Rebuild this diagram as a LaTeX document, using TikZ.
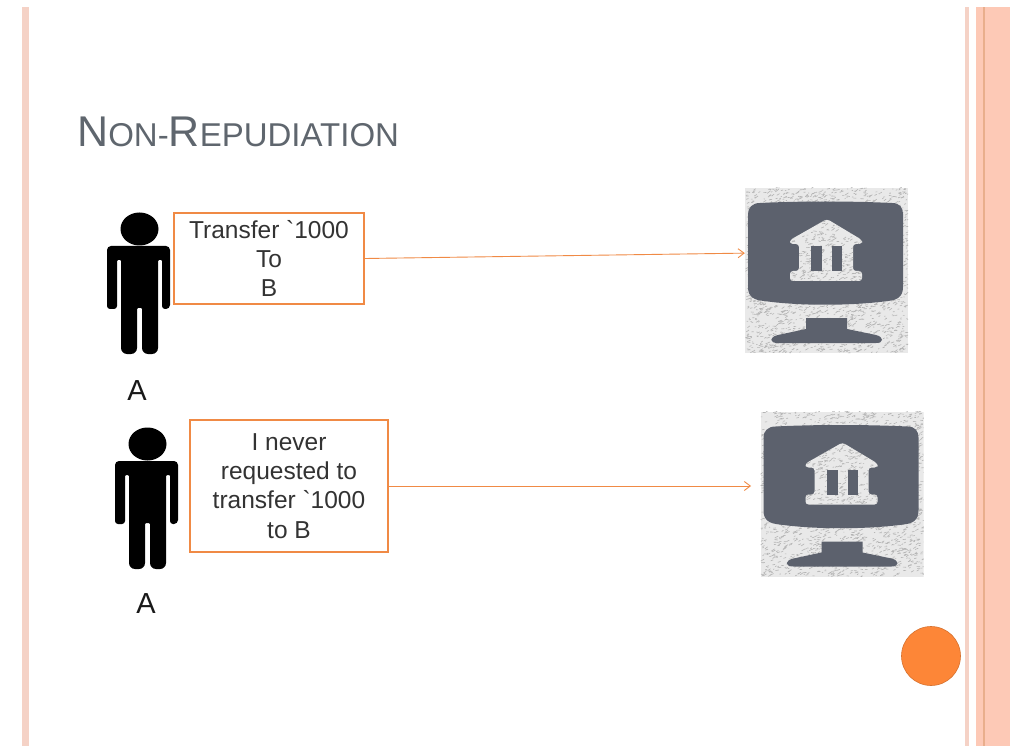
\documentclass[tikz,border=0pt]{standalone}
\usepackage{fontspec}
\usetikzlibrary{arrows.meta}
\newfontfamily\lib{Liberation Sans}
\definecolor{barlight}{HTML}{F5D2C6}
\definecolor{barpink}{HTML}{FDC9B6}
\definecolor{bardark}{HTML}{E9AE8C}
\definecolor{accent}{HTML}{F08A45}
\definecolor{dot}{HTML}{FD8637}
\definecolor{slate}{HTML}{5C616D}
\definecolor{titlegray}{HTML}{5F666E}
\definecolor{speckbg}{HTML}{E9E9E9}
\definecolor{speckfg}{HTML}{B4B4B4}
\newcommand{\specklefill}[5]{%
  \begin{scope}
  \clip (#1,#2) rectangle ++(#3,#4);
  \fill[speckbg] (#1,#2) rectangle ++(#3,#4);
  \foreach \i in {1,...,#5}{%
    \pgfmathsetmacro{\sx}{#1+rnd*#3}%
    \pgfmathsetmacro{\sy}{#2+rnd*#4}%
    \pgfmathsetmacro{\sa}{1+rnd*2.5}%
    \pgfmathsetmacro{\sb}{(rnd-0.8)*\sa}%
    \draw[speckfg,line width=0.6pt] (\sx,\sy) -- ++(\sa,\sb);
  }%
  \end{scope}
}
\tikzset{
  x=1pt,y=-1pt,
  msgbox/.style={draw=accent,line width=2pt,fill=white,inner sep=0pt,align=center,
    font=\lib\fontsize{24.5}{29.2}\selectfont,text=black!80},
  flow/.style={draw=accent,line width=0.9pt,-{Straight Barb[length=6pt,width=9pt]}},
  personlabel/.style={font=\lib\fontsize{29}{30}\selectfont,text=black!90,inner sep=0pt},
  bankarea/.style={minimum width=163pt,minimum height=165pt,inner sep=0pt},
  person/.pic={
    \fill[black] (139.5,229) ellipse [x radius=19,y radius=16.5];
    \fill[black,rounded corners=4pt] (107,270) -- (107,246) -- (170,246)
      -- (170,309) [rounded corners=3pt] -- (162,309) [rounded corners=1pt] -- (162,260) -- (158,260)
      [rounded corners=6pt] -- (158,354) -- (142,354) [rounded corners=1pt] -- (142,308)
      -- (137,308) [rounded corners=6pt] -- (137,354) -- (121,354) [rounded corners=1pt] -- (121,260) -- (117,260)
      [rounded corners=3pt] -- (117,309) -- (107,309) -- cycle;
  },
  bankicon/.pic={
    \specklefill{745}{188}{163}{165}{2200}
    \fill[slate] (760,203) .. controls (800,201) and (850,201) .. (892,203)
      .. controls (900,203) and (903,208) .. (903,214)
      -- (903,287) .. controls (903,297) and (897,300) .. (888,301)
      .. controls (850,306) and (800,306) .. (764,301)
      .. controls (754,300) and (748,297) .. (748,287)
      -- (748,214) .. controls (748,208) and (752,203) .. (760,203) -- cycle;
    \fill[slate] (806,318) -- (847,318) -- (847,329) -- (876,335)
      .. controls (884,337) and (884,343) .. (876,343)
      -- (778,343) .. controls (769,343) and (769,337) .. (778,335) -- (806,329) -- cycle;
    \begin{scope}
      \clip[rounded corners=3pt] (827,219) -- (862,240) -- (862,244) -- (853,244) -- (853,271) -- (862,271)
        -- (862,281) -- (790,281) -- (790,271) -- (799,271) -- (799,244) -- (790,244) -- (790,240) -- cycle;
      \specklefill{788}{217}{76}{66}{380}
    \end{scope}
    \fill[slate] (811,246) rectangle (822,271);
    \fill[slate] (832,246) rectangle (842,271);
  },
}
\begin{document}
\begin{tikzpicture}
\useasboundingbox (0,0) rectangle (1010,746);
\fill[white] (0,0) rectangle (1010,746);
% side bars
\fill[barlight] (22,7) rectangle (29,746);
\fill[barlight] (965,7) rectangle (969,746);
\fill[barpink] (976,7) rectangle (1010,746);
\fill[bardark] (983,7) rectangle (985,746);
% title
\node[anchor=base west,inner sep=0pt,text=titlegray] (title) at (77,147)
  {\lib\fontsize{43}{43}\selectfont N\fontsize{33}{43}\selectfont ON-\fontsize{43}{43}\selectfont R\fontsize{33}{43}\selectfont EPUDIATION};
% first row
\pic at (0,0) {person};
\node[personlabel] (labelA) at (137,391) {A};
\node[msgbox,minimum width=190pt,minimum height=91pt] (req) at (269,258.5)
  {Transfer `1000\\To\\B};
\pic at (0,0) {bankicon};
\node[bankarea] (bank1) at (826.5,270.5) {};
\draw[flow] (req.east) -- (bank1.168.6);
% second row
\begin{scope}[shift={(8,215)}]
  \pic at (0,0) {person};
\end{scope}
\node[personlabel] (labelB) at (146,604) {A};
\node[msgbox,minimum width=198pt,minimum height=132pt] (deny) at (289,486)
  {I never\\requested to\\transfer `1000\\to B};
\begin{scope}[shift={(15.5,223.5)}]
  \pic at (0,0) {bankicon};
\end{scope}
\node[bankarea] (bank2) at (842,494) {};
\coordinate (bank2in) at (751,486);
\draw[flow] (deny.east) -- (bank2in);
% dot
\node[circle,fill=dot,draw=dot!85!black,line width=0.6pt,minimum size=59pt,inner sep=0pt] (orb) at (931,656) {};
\end{tikzpicture}
\end{document}
